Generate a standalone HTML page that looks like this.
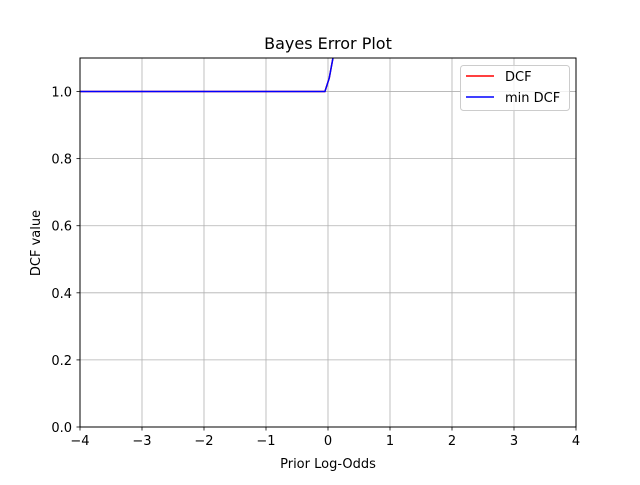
<!DOCTYPE html>
<html><head><meta charset="utf-8"><style>
body{margin:0;background:#fff;}
text{font-family:"DejaVu Sans","Liberation Sans",sans-serif;}
</style></head><body>
<svg id="chart" width="640" height="480" xmlns="http://www.w3.org/2000/svg">
<rect width="640" height="480" fill="#fff"/>
<defs><clipPath id="clip"><rect x="80" y="58" width="496" height="369"/></clipPath></defs>
<g id="grid"></g>
<g id="ticks"></g>
<g id="series" clip-path="url(#clip)"></g>
<rect x="80" y="58" width="496" height="369" fill="none" stroke="#000" stroke-width="1"/>
<text x="328" y="49" font-size="16" text-anchor="middle">Bayes Error Plot</text>
<text x="328" y="468" font-size="13" text-anchor="middle">Prior Log-Odds</text>
<text transform="translate(40,243) rotate(-90)" font-size="13" text-anchor="middle">DCF value</text>
<g>
<rect x="460.5" y="65.5" width="109" height="45" rx="3" fill="#fff" fill-opacity="0.8" stroke="#ccc"/>
<line x1="466" y1="76" x2="494" y2="76" stroke="red" stroke-width="1.5"/>
<text x="505" y="81" font-size="13">DCF</text>
<line x1="466" y1="97" x2="494" y2="97" stroke="blue" stroke-width="1.5"/>
<text x="505" y="102" font-size="13">min DCF</text>
</g>
</svg>
<script>
const logOdds=[-4,-0.05,0.02,0.15];
const dcfValues=[1.0,1.0,1.04,1.17];
const minDcfValues=[1.0,1.0,1.04,1.17];
const xTicks=[-4,-3,-2,-1,0,1,2,3,4];
const yTicks=[0.0,0.2,0.4,0.6,0.8,1.0];
const NS="http://www.w3.org/2000/svg";
const X=v=>80+(v+4)/8*496;
const Y=v=>427-v/1.1*369;
function mk(t,a,p){const e=document.createElementNS(NS,t);for(const k in a)e.setAttribute(k,a[k]);p.appendChild(e);return e;}
const grid=document.getElementById('grid'),ticks=document.getElementById('ticks'),ser=document.getElementById('series');
xTicks.forEach(v=>{const x=X(v);
 const g=mk('line',{x1:x,x2:x,y1:58,y2:427,stroke:'#b0b0b0','stroke-width':0.8},grid);
 
 
 const t=mk('line',{x1:x,x2:x,y1:427,y2:430.5,stroke:'#000','stroke-width':0.8},ticks);
 
 
 const l=mk('text',{x:x,y:445,'font-size':13,'text-anchor':'middle'},ticks);l.textContent=(v<0?'\u2212'+(-v):v);
 
 
});
yTicks.forEach(v=>{const y=Y(v);
 const g=mk('line',{x1:80,x2:576,y1:y,y2:y,stroke:'#b0b0b0','stroke-width':0.8},grid);
 
 
 const t=mk('line',{x1:76.5,x2:80,y1:y,y2:y,stroke:'#000','stroke-width':0.8},ticks);
 
 
 const l=mk('text',{x:72,y:y+5,'font-size':13,'text-anchor':'end'},ticks);l.textContent=v.toFixed(1);
 
 
});
function line(vals,color,name){
 const p=mk('polyline',{points:logOdds.map((x,i)=>X(x)+','+Y(vals[i])).join(' '),fill:'none',stroke:color,'stroke-width':1.5},ser);
 
 
}
line(dcfValues,'red','dcf-line');
line(minDcfValues,'blue','min-dcf-line');
</script>
</body></html>
